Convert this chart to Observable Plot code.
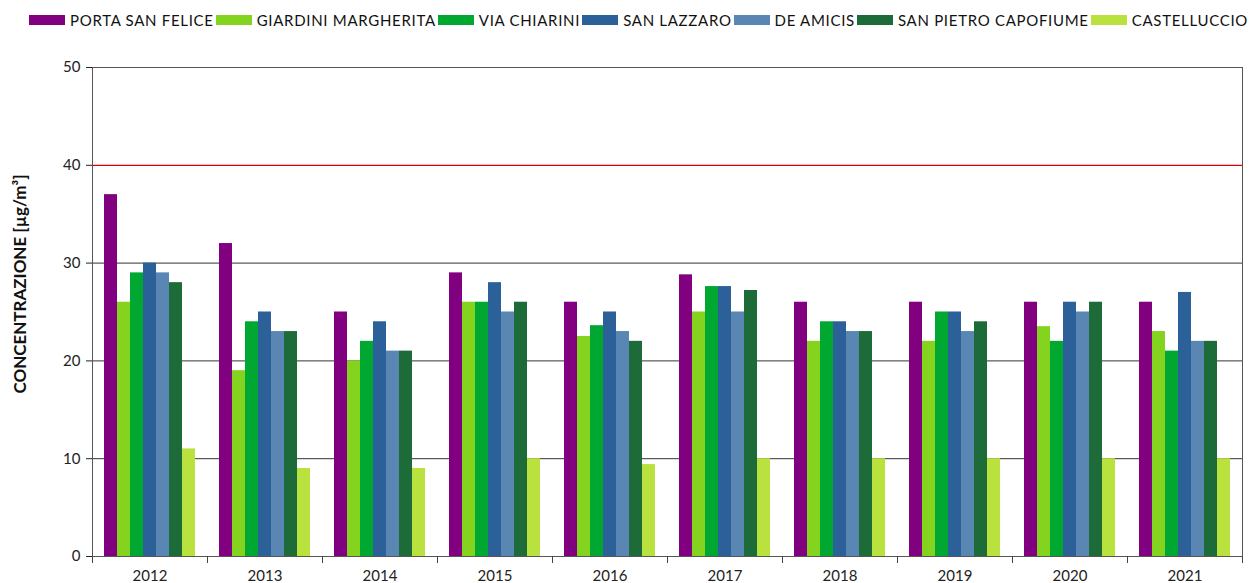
<!DOCTYPE html>
<html><head><meta charset="utf-8">
<script src="https://cdn.jsdelivr.net/npm/d3@7"></script>
<script src="https://cdn.jsdelivr.net/npm/@observablehq/plot@0.6"></script>
<style>
body{margin:0;background:#fff;font-family:Lato, sans-serif;}
#legend{display:flex;align-items:center;height:38px;padding-left:29px;font-size:15px;color:#111;letter-spacing:0.7px;white-space:nowrap;padding-top:2px;box-sizing:border-box;}
.item{display:flex;align-items:center;margin-right:2px}
.sw{width:36px;height:10px;margin-right:5px}
</style></head><body>
<div id="legend"></div><div id="chart"></div>
<script>
const years = ["2012","2013","2014","2015","2016","2017","2018","2019","2020","2021"];
const stations = ["PORTA SAN FELICE","GIARDINI MARGHERITA","VIA CHIARINI","SAN LAZZARO","DE AMICIS","SAN PIETRO CAPOFIUME","CASTELLUCCIO"];
const colors = ["#800080","#84d31e","#00a832","#2b6099","#5a86b4","#1e6b3a","#b9e23e"];
const portaSanFelice     = [37, 32, 25, 29, 26,   28.8, 26, 26, 26,   26];
const giardiniMargherita = [26, 19, 20, 26, 22.5, 25,   22, 22, 23.5, 23];
const viaChiarini        = [29, 24, 22, 26, 23.6, 27.6, 24, 25, 22,   21];
const sanLazzaro         = [30, 25, 24, 28, 25,   27.6, 24, 25, 26,   27];
const deAmicis           = [29, 23, 21, 25, 23,   25,   23, 23, 25,   22];
const sanPietroCapofiume = [28, 23, 21, 26, 22,   27.2, 23, 24, 26,   22];
const castelluccio       = [11, 9,  9,  10, 9.4,  10,   10, 10, 10,   10];
const limitValue = 40;
const yTicks = [0, 10, 20, 30, 40, 50];
const yLabel = "CONCENTRAZIONE [µg/m³]";

const series = [portaSanFelice, giardiniMargherita, viaChiarini, sanLazzaro, deAmicis, sanPietroCapofiume, castelluccio];
const data = [];
years.forEach((yr, i) => stations.forEach((st, j) => data.push({year: yr, station: st, value: series[j][i]})));

const legend = document.getElementById("legend");
stations.forEach((st, j) => {
  const it = document.createElement("div"); it.className = "item";
  const sw = document.createElement("div"); sw.className = "sw"; sw.style.background = colors[j];
  const tx = document.createElement("span"); tx.textContent = st;
  it.appendChild(sw); it.appendChild(tx); legend.appendChild(it);
});

const chart = Plot.plot({
  width: 1255, height: 545,
  marginLeft: 90, marginRight: 12, marginTop: 29, marginBottom: 27,
  style: {fontFamily: "Lato, sans-serif", fontSize: "15px", color: "#222", background: "#fff"},
  fx: {domain: years, padding: 0, label: null, axis: null},
  x: {domain: stations, paddingInner: 0, paddingOuter: 0.74, axis: null},
  y: {domain: [0, 50], label: null, axis: null},
  color: {domain: stations, range: colors},
  marks: [
    Plot.ruleY(yTicks.filter(t => t > 0 && t < 50 && t !== limitValue), {stroke: "#333", strokeWidth: 1}),
    Plot.ruleY([limitValue], {stroke: "#e00000", strokeWidth: 1.2}),
    Plot.barY(data, {fx: "year", x: "station", y: "value", fill: "station"}),
    Plot.frame({facet: "super", stroke: "#555"}),
    Plot.axisY({ticks: yTicks, tickSize: 6, tickPadding: 6, label: null, fontSize: 15, stroke: "#222"}),
    Plot.axisFx({anchor: "bottom", tickSize: 0, tickPadding: 14, label: null, fontSize: 15}),
    Plot.frame({anchor: "left", insetTop: 489, insetBottom: -6, stroke: "#444"}),
    Plot.frame({anchor: "right", insetTop: 489, insetBottom: -6, stroke: "#444"}),
    Plot.text([yLabel], {facet: "super", frameAnchor: "left", textAnchor: "middle", rotate: -90, dx: -72, dy: -28, fontWeight: "bold", fontSize: 17, fill: "#111"})
  ]
});
document.getElementById("chart").appendChild(chart);
</script>
</body></html>
